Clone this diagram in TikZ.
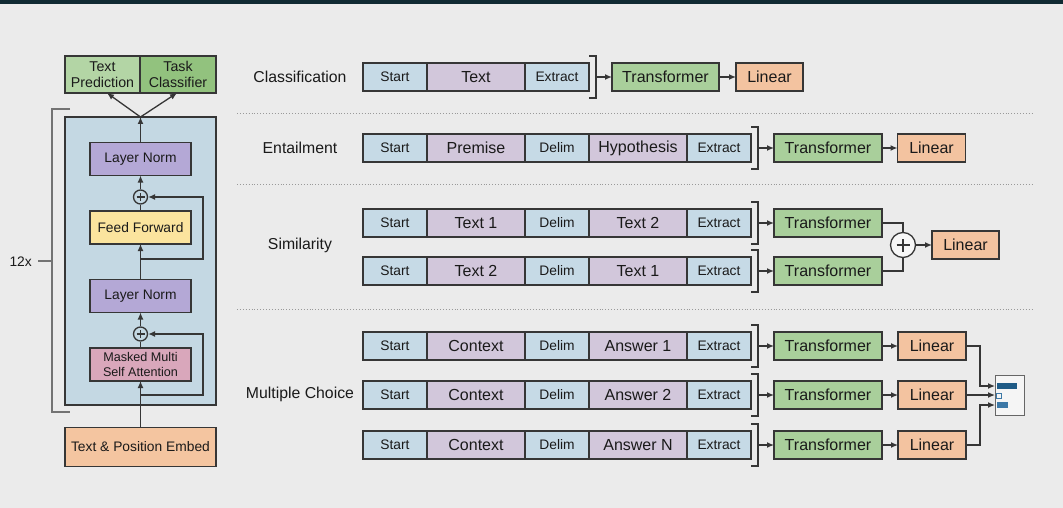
\documentclass[tikz,border=0pt]{standalone}
\usepackage{fontspec}
\setmainfont{Liberation Sans}
\usetikzlibrary{positioning,arrows.meta}

\definecolor{bgc}{HTML}{EBEBEB}
\definecolor{barc}{HTML}{102A33}
\definecolor{linec}{HTML}{363636}
\definecolor{txt}{HTML}{1A1A1A}
\definecolor{tokblue}{HTML}{C6DAE6}
\definecolor{tokpurp}{HTML}{D2C7DB}
\definecolor{tfgreen}{HTML}{A9CF9B}
\definecolor{linorange}{HTML}{F3C3A0}
\definecolor{blkblue}{HTML}{C4D8E3}
\definecolor{normpurp}{HTML}{B4A8D6}
\definecolor{ffyellow}{HTML}{FBE49E}
\definecolor{attpink}{HTML}{D9A7BB}
\definecolor{embor}{HTML}{F4C5A0}
\definecolor{predg}{HTML}{B3D5A5}
\definecolor{clsg}{HTML}{92C27E}
\definecolor{bardark}{HTML}{1F5B86}
\definecolor{barmid}{HTML}{3C78A6}

\tikzset{
  box/.style={draw=linec, line width=1.3pt, inner sep=0pt, outer sep=0pt, text=txt},
  sbox/.style={box, fill=tokblue, minimum width=64pt, minimum height=28pt, font=\fontsize{13.8}{15}\selectfont},
  lbox/.style={box, fill=tokpurp, minimum width=98pt, minimum height=28pt, font=\fontsize{16}{18}\selectfont},
  tfbox/.style={box, fill=tfgreen, minimum width=108pt, minimum height=28pt, font=\fontsize{16}{18}\selectfont},
  linbox/.style={box, fill=linorange, minimum width=68pt, minimum height=28pt, font=\fontsize{16}{18}\selectfont},
  layer/.style={box, minimum width=101pt, minimum height=33pt, align=center, font=\fontsize{13.8}{15.5}\selectfont},
  task/.style={text=txt, font=\fontsize{15.8}{17}\selectfont},
  brk/.style={draw=linec, line width=1.3pt},
  ln/.style={draw=linec, line width=1.3pt},
  arr/.style={ln, -{Latex[length=7pt,width=6pt]}},
  sep/.style={draw=black!40, line width=0.9pt, dotted},
  addc/.style={circle, draw=linec, line width=1.3pt, minimum size=14pt, inner sep=0pt,
    path picture={\draw[line width=1.4pt, linec] (path picture bounding box.center) +(-4pt,0) -- +(4pt,0)
      (path picture bounding box.center) +(0,-4pt) -- +(0,4pt);}},
  addbig/.style={circle, draw=linec, line width=1.3pt, fill=white!60!bgc, minimum size=25pt, inner sep=0pt,
    path picture={\draw[line width=1.6pt, linec] (path picture bounding box.center) +(-6.5pt,0) -- +(6.5pt,0)
      (path picture bounding box.center) +(0,-6.5pt) -- +(0,6.5pt);}},
}

\begin{document}
\begin{tikzpicture}[x=1pt, y=-1pt]
  % background and top bar
  \fill[bgc] (0,0) rectangle (1063,508);
  \fill[barc] (0,0) rectangle (1063,4.5);

  % transformer block on the left
  \node[box, fill=blkblue, minimum width=151pt, minimum height=288pt] (blk) at (140.5,261) {};
  \node[box, fill=predg, minimum width=75pt, minimum height=37pt, align=center,
        font=\fontsize{14.2}{15.5}\selectfont] (tp) at (102.5,74.5) {Text\\Prediction};
  \node[box, fill=clsg, minimum width=76pt, minimum height=37pt, align=center,
        font=\fontsize{14.2}{15.5}\selectfont] (tc) at (178,74.5) {Task\\Classifier};
  \node[layer, fill=normpurp] (ln1) at (140.5,159) {Layer Norm};
  \node[addc] (add1) at (140.5,197) {};
  \node[layer, fill=ffyellow] (ff) at (140.5,227.5) {Feed Forward};
  \node[layer, fill=normpurp] (ln2) at (140.5,296) {Layer Norm};
  \node[addc] (add2) at (140.5,334) {};
  \node[layer, fill=attpink, font=\fontsize{12.6}{15}\selectfont] (mha) at (140.5,364.5) {Masked Multi\\Self Attention};
  \node[box, fill=embor, minimum width=151pt, minimum height=39pt,
        font=\fontsize{13.8}{15}\selectfont] (emb) at (140.5,447) {Text \& Position Embed};

  \draw[arr] (emb) -- (mha);
  \draw[ln] (mha) -- (add2);
  \draw[arr] (add2) -- (ln2);
  \draw[arr] (ln2) -- (ff);
  \draw[ln] (ff) -- (add1);
  \draw[arr] (add1) -- (ln1);
  \draw[arr] (ln1) -- (blk.north);
  \draw[arr] (blk.north) -- ([xshift=4.5pt]tp.south);
  \draw[arr] (blk.north) -- ([xshift=-1pt]tc.south);
  \coordinate (r1) at (140.5,395);
  \coordinate (r2) at (140.5,259);
  \draw[arr] (r1) -- ++(62.5,0) |- (add2.east);
  \draw[arr] (r2) -- ++(62.5,0) |- (add1.east);

  % 12x bracket
  \draw[draw=black!55, line width=1.1pt] (70,109) -| (52,412) -- (70,412);
  \draw[draw=black!55, line width=1.1pt] (52,261) -- (38,261);
  \node[anchor=east, inner sep=0pt, text=txt, font=\fontsize{13.8}{15}\selectfont] (rep) at (32,262) {12x};

  % separators
  \draw[sep] (237,113) -- (1033,113);
  \draw[sep] (237,184.5) -- (1033,184.5);
  \draw[sep] (237,309) -- (1033,309);

  % classification
  \node[task] (lcls) at (300,77) {Classification};
  \node[sbox, anchor=west] (c1) at (363,77) {Start};
  \node[lbox, right=0pt of c1] (c2) {Text};
  \node[sbox, right=0pt of c2] (c3) {Extract};
  \draw[brk] ([yshift=21pt]c3.east) -| ([xshift=7pt,yshift=-21pt]c3.east) -- ([yshift=-21pt]c3.east);
  \node[tfbox, minimum width=107pt] (ctf) at (665.5,77) {Transformer};
  \node[linbox, minimum width=67pt] (clin) at (769.5,77) {Linear};
  \draw[arr] ([xshift=7pt]c3.east) -- (ctf.west);
  \draw[arr] (ctf) -- (clin);

  % entailment
  \node[task] (lent) at (300,148) {Entailment};
  \node[sbox, anchor=west] (e1) at (363,148) {Start};
  \node[lbox, right=0pt of e1] (e2) {Premise};
  \node[sbox, right=0pt of e2] (e3) {Delim};
  \node[lbox, right=0pt of e3] (e4) {Hypothesis};
  \node[sbox, right=0pt of e4] (e5) {Extract};
  \draw[brk] ([yshift=21pt]e5.east) -| ([xshift=7pt,yshift=-21pt]e5.east) -- ([yshift=-21pt]e5.east);
  \node[tfbox] (etf) at (828,148) {Transformer};
  \node[linbox] (elin) at (931.5,148) {Linear};
  \draw[arr] ([xshift=7pt]e5.east) -- (etf.west);
  \draw[arr] (etf) -- (elin);

  % similarity
  \node[task] (lsim) at (300,245) {Similarity};
  \foreach \i/\yy/\ta/\tb in {1/223/Text 1/Text 2, 2/271/Text 2/Text 1} {
    \node[sbox, anchor=west] (s\i-1) at (363,\yy) {Start};
    \node[lbox, right=0pt of s\i-1] (s\i-2) {\ta};
    \node[sbox, right=0pt of s\i-2] (s\i-3) {Delim};
    \node[lbox, right=0pt of s\i-3] (s\i-4) {\tb};
    \node[sbox, right=0pt of s\i-4] (s\i-5) {Extract};
    \draw[brk] ([yshift=21pt]s\i-5.east) -| ([xshift=7pt,yshift=-21pt]s\i-5.east) -- ([yshift=-21pt]s\i-5.east);
    \node[tfbox] (s\i-tf) at (828,\yy) {Transformer};
    \draw[arr] ([xshift=7pt]s\i-5.east) -- (s\i-tf.west);
  }
  \node[addbig] (sadd) at (903,245) {};
  \node[linbox, minimum width=67pt] (slin) at (965.5,245) {Linear};
  \draw[ln] (s1-tf.east) -| (sadd.north);
  \draw[ln] (s2-tf.east) -| (sadd.south);
  \draw[arr] (sadd) -- (slin);

  % multiple choice
  \node[task] (lmc) at (300,394) {Multiple Choice};
  \foreach \i/\yy/\ans in {1/346/Answer 1, 2/395/Answer 2, 3/445/Answer N} {
    \node[sbox, anchor=west] (m\i-1) at (363,\yy) {Start};
    \node[lbox, right=0pt of m\i-1] (m\i-2) {Context};
    \node[sbox, right=0pt of m\i-2] (m\i-3) {Delim};
    \node[lbox, right=0pt of m\i-3] (m\i-4) {\ans};
    \node[sbox, right=0pt of m\i-4] (m\i-5) {Extract};
    \draw[brk] ([yshift=21pt]m\i-5.east) -| ([xshift=7pt,yshift=-21pt]m\i-5.east) -- ([yshift=-21pt]m\i-5.east);
    \node[tfbox] (m\i-tf) at (828,\yy) {Transformer};
    \node[linbox] (m\i-lin) at (932,\yy) {Linear};
    \draw[arr] ([xshift=7pt]m\i-5.east) -- (m\i-tf.west);
    \draw[arr] (m\i-tf) -- (m\i-lin);
  }

  % output scores
  \node[box, draw=black!60, line width=1pt, fill=white!50!bgc, minimum width=29pt, minimum height=40pt] (out) at (1009.5,395) {};
  \fill[bardark] (996.5,383) rectangle (1017,389);
  \draw[barmid, line width=0.8pt] (996.5,393.5) rectangle (1001,398.5);
  \fill[barmid] (996.5,402) rectangle (1008,408);
  \draw[arr] (m1-lin.east) -- ++(14,0) |- ([yshift=9pt]out.west);
  \draw[arr] (m2-lin) -- (out);
  \draw[arr] (m3-lin.east) -- ++(14,0) |- ([yshift=-10pt]out.west);
\end{tikzpicture}
\end{document}
